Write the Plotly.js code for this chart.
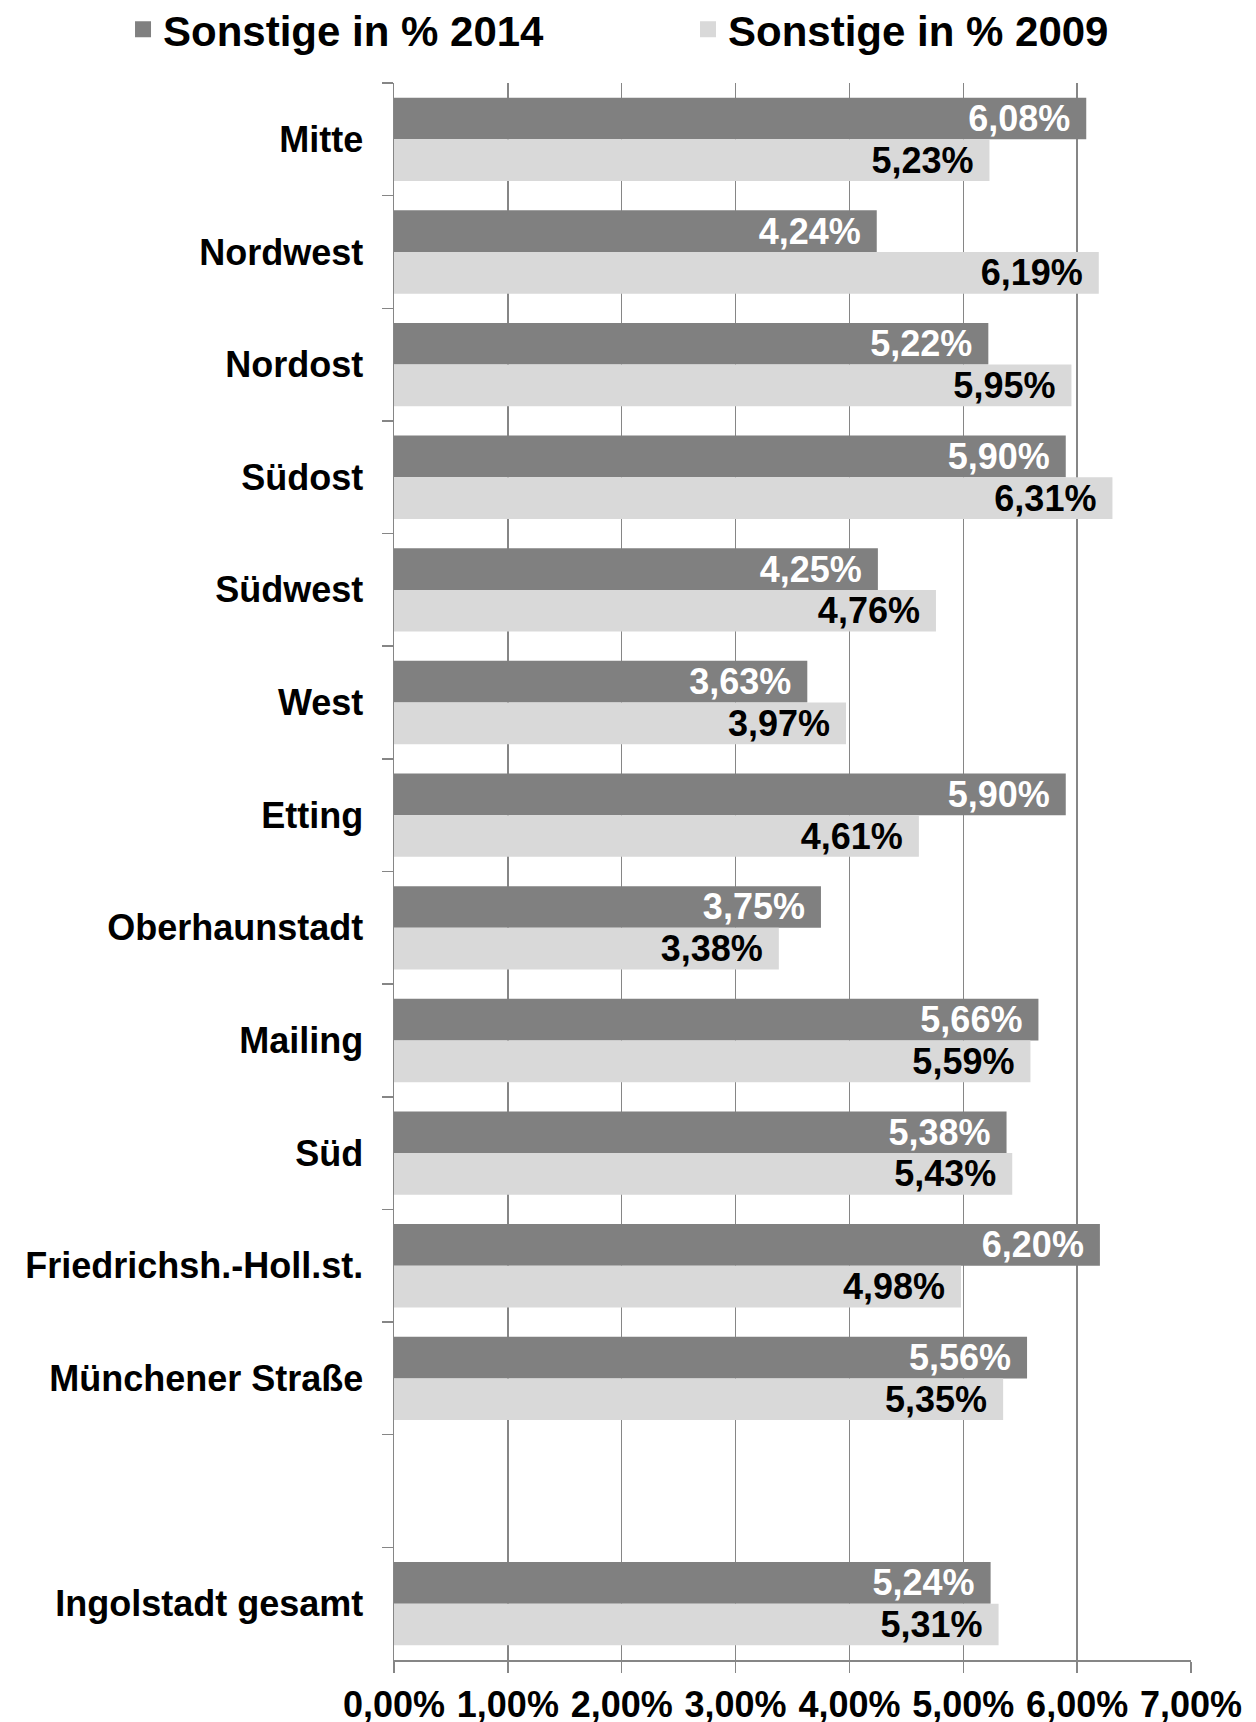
<!DOCTYPE html>
<html>
<head>
<meta charset="utf-8">
<script src="https://cdn.plot.ly/plotly-3.0.1.min.js"></script>
<style>html,body{margin:0;padding:0;background:#fff;}#chart{width:1256px;height:1722px;}</style>
</head>
<body>
<div id="chart"></div>
<script>
const categories = ["Mitte","Nordwest","Nordost","Südost","Südwest","West","Etting","Oberhaunstadt","Mailing","Süd","Friedrichsh.-Holl.st.","Münchener Straße"," ","Ingolstadt gesamt"];
const values2014 = [6.08,4.24,5.22,5.90,4.25,3.63,5.90,3.75,5.66,5.38,6.20,5.56,null,5.24];
const values2009 = [5.23,6.19,5.95,6.31,4.76,3.97,4.61,3.38,5.59,5.43,4.98,5.35,null,5.31];
const seriesNames = ["Sonstige in % 2014","Sonstige in % 2009"];
const xTicks = [0,1,2,3,4,5,6,7];
const xTickLabels = ["0,00%","1,00%","2,00%","3,00%","4,00%","5,00%","6,00%","7,00%"];

const FONT = 'Arial, "Liberation Sans", sans-serif';
const DARK = '#808080', LIGHT = '#d9d9d9', GRID = '#868686';

const barCommon = {
  type:'bar', orientation:'h', y:categories, showlegend:false,
  textposition:'inside', insidetextanchor:'end', constraintext:'none',
  texttemplate:'%{x:.2f}%\u00A0\u200A', hoverinfo:'skip'
};
const traces = [
  Object.assign({}, barCommon, {name:seriesNames[0], x:values2014, marker:{color:DARK},
    textfont:{family:FONT, size:36, color:'#ffffff', weight:'bold'}}),
  Object.assign({}, barCommon, {name:seriesNames[1], x:values2009, marker:{color:LIGHT},
    textfont:{family:FONT, size:36, color:'#000000', weight:'bold'}}),
  {type:'scatter', mode:'markers', x:[null], y:[null], name:seriesNames[0], showlegend:true,
    marker:{symbol:'square', size:16, color:DARK}, hoverinfo:'skip'},
  {type:'scatter', mode:'markers', x:[null], y:[null], name:seriesNames[1], showlegend:true,
    marker:{symbol:'square', size:16, color:LIGHT}, hoverinfo:'skip'}
];

const layout = {
  width:1256, height:1722,
  margin:{l:394, r:65, t:83, b:62, autoexpand:false},
  paper_bgcolor:'#fff', plot_bgcolor:'#fff',
  separators:',.',
  font:{family:FONT, size:36, color:'#000', weight:'bold'},
  barmode:'group', bargap:0.26, bargroupgap:0,
  showlegend:true,
  legend:{orientation:'h', x:-0.34, xanchor:'left', y:1.034, yanchor:'middle',
    font:{family:FONT, size:42, color:'#000', weight:'bold'},
    entrywidth:520, entrywidthmode:'pixels', bgcolor:'rgba(0,0,0,0)'},
  xaxis:{range:[0,7], tickmode:'array', tickvals:xTicks, ticktext:xTickLabels,
    showgrid:true, gridcolor:GRID, gridwidth:1.5, zeroline:false,
    showline:true, linecolor:GRID, linewidth:1.5,
    ticks:'outside', ticklen:11, tickcolor:GRID, tickwidth:1.5, ticklabelstandoff:1,
    tickfont:{family:FONT, size:36, color:'#000', weight:'bold'}, fixedrange:true, automargin:false},
  yaxis:{type:'category', categoryorder:'array', categoryarray:categories,
    range:[categories.length-0.5, -0.5], showgrid:false, zeroline:false,
    showline:true, linecolor:GRID, linewidth:1.5,
    ticks:'outside', tickson:'boundaries', ticklen:11, tickcolor:GRID, tickwidth:1.5,
    ticklabelstandoff:22,
    tickfont:{family:FONT, size:36, color:'#000', weight:'bold'}, fixedrange:true, automargin:false}
};

Plotly.newPlot('chart', traces, layout, {displayModeBar:false, staticPlot:true});
</script>
</body>
</html>
